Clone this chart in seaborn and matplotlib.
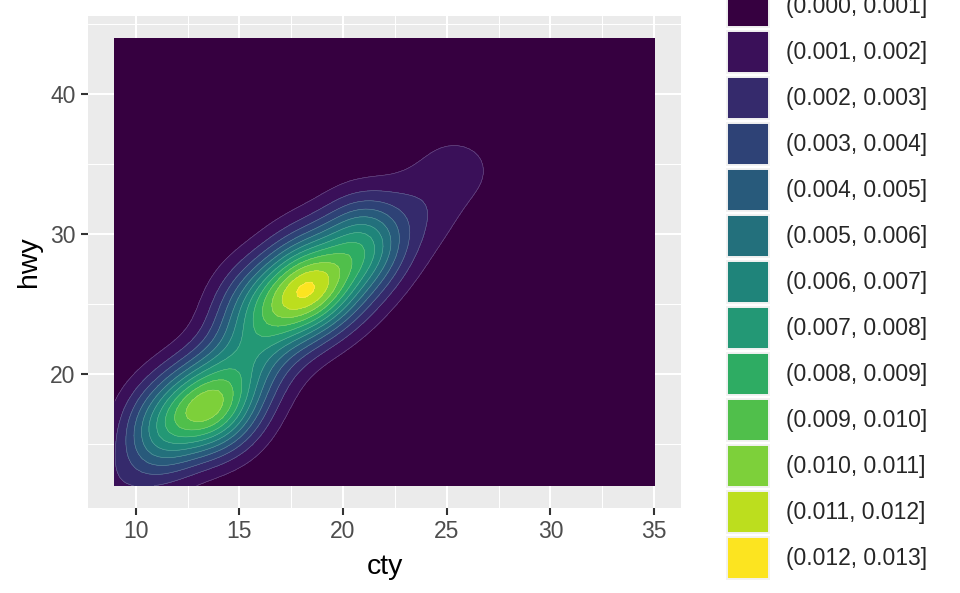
import numpy as np
import matplotlib
matplotlib.use("Agg")
import matplotlib.pyplot as plt
from matplotlib.patches import Patch
from matplotlib.ticker import MultipleLocator
import seaborn as sns

# mpg data: city / highway miles per gallon (234 cars)
cty = [18, 21, 20, 21, 16, 18, 18, 18, 16, 20, 19, 15, 17, 17, 15, 15, 17, 16,
       14, 11, 14, 13, 12, 16, 15, 16, 15, 15, 14, 11, 11, 14, 19, 22, 18, 18,
       17, 18, 17, 16, 16, 17, 17, 11, 15, 15, 16, 16, 15, 14, 13, 14, 14, 14,
       9, 11, 11, 13, 13, 9, 13, 11, 13, 11, 12, 9, 13, 13, 12, 9, 11, 11,
       13, 11, 11, 11, 12, 14, 15, 14, 13, 13, 13, 14, 14, 13, 13, 13, 11, 13,
       18, 18, 17, 16, 15, 15, 15, 15, 14, 28, 24, 25, 23, 24, 26, 25, 24, 21,
       18, 18, 21, 21, 18, 18, 19, 19, 19, 20, 20, 17, 16, 17, 17, 15, 15, 14,
       9, 14, 13, 11, 11, 12, 12, 11, 11, 11, 12, 14, 13, 13, 13, 21, 19, 23,
       23, 19, 19, 18, 19, 19, 14, 15, 14, 12, 18, 16, 17, 18, 16, 18, 18, 20,
       19, 20, 18, 21, 19, 19, 19, 20, 20, 19, 20, 15, 16, 15, 15, 16, 14, 21,
       21, 21, 21, 18, 18, 19, 21, 21, 21, 22, 18, 18, 18, 24, 24, 26, 28, 26,
       11, 13, 15, 16, 17, 15, 15, 15, 16, 21, 19, 21, 22, 17, 33, 21, 19, 22,
       21, 21, 21, 16, 17, 35, 29, 21, 19, 20, 20, 21, 18, 19, 21, 16, 18, 17]
hwy = [29, 29, 31, 30, 26, 26, 27, 26, 25, 28, 27, 25, 25, 25, 25, 24, 25, 23,
       20, 15, 20, 17, 17, 26, 23, 26, 25, 24, 19, 14, 15, 17, 27, 30, 26, 29,
       26, 24, 24, 22, 22, 24, 24, 17, 22, 21, 23, 23, 19, 18, 17, 17, 19, 19,
       12, 17, 15, 17, 17, 12, 17, 16, 18, 15, 16, 12, 17, 17, 16, 12, 15, 16,
       17, 15, 17, 17, 18, 17, 19, 17, 19, 19, 17, 17, 17, 16, 16, 17, 15, 17,
       26, 25, 26, 24, 21, 22, 23, 22, 20, 33, 32, 32, 29, 32, 34, 36, 36, 29,
       26, 27, 30, 31, 26, 26, 28, 26, 29, 28, 27, 24, 24, 24, 22, 19, 20, 17,
       12, 19, 18, 14, 15, 18, 18, 15, 17, 16, 18, 17, 19, 19, 17, 29, 27, 31,
       32, 27, 26, 26, 25, 25, 17, 17, 20, 18, 26, 26, 27, 28, 25, 25, 24, 27,
       25, 26, 23, 26, 26, 26, 26, 25, 27, 25, 27, 20, 20, 19, 17, 20, 17, 29,
       27, 31, 31, 26, 26, 28, 27, 29, 31, 31, 26, 26, 27, 30, 33, 35, 37, 35,
       15, 18, 20, 20, 22, 17, 19, 18, 20, 29, 26, 29, 29, 24, 44, 29, 26, 29,
       29, 29, 29, 23, 24, 44, 41, 29, 26, 28, 29, 29, 29, 28, 29, 26, 26, 26]

breaks = [0.000, 0.001, 0.002, 0.003, 0.004, 0.005, 0.006, 0.007,
          0.008, 0.009, 0.010, 0.011, 0.012, 0.013]
level_labels = [f"({a:.3f}, {b:.3f}]" for a, b in zip(breaks[:-1], breaks[1:])]

# viridis steps as they appear in the picture
level_colors = ["#360040", "#3A1059", "#352A6C", "#2E4276", "#285A7B",
                "#23707C", "#1F847A", "#239875", "#2EAC63", "#50BF4B",
                "#7DD03A", "#BCDE1E", "#FCE420"]


def bandwidth_nrd(v):
    q1, q3 = np.percentile(v, [25, 75])
    return 4 * 1.06 * min(np.std(v, ddof=1), (q3 - q1) / 1.34) * len(v) ** (-0.2)


# 2d kernel density on a 100x100 grid (like MASS::kde2d)
x = np.asarray(cty, float)
y = np.asarray(hwy, float)
hx = bandwidth_nrd(x) / 4
hy = bandwidth_nrd(y) / 4
gx = np.linspace(x.min(), x.max(), 100)
gy = np.linspace(y.min(), y.max(), 100)
dx = np.exp(-0.5 * ((gx[:, None] - x[None, :]) / hx) ** 2) / np.sqrt(2 * np.pi)
dy = np.exp(-0.5 * ((gy[:, None] - y[None, :]) / hy) ** 2) / np.sqrt(2 * np.pi)
z = (dx @ dy.T) / (len(x) * hx * hy)

sns.set_theme(style="darkgrid", rc={
    "axes.facecolor": "#EBEBEB",
    "grid.color": "white",
    "axes.edgecolor": "#EBEBEB",
})
plt.rcParams["font.family"] = ["Liberation Sans", "DejaVu Sans"]

fig = plt.figure(figsize=(9.6, 5.93), dpi=100)
ax = fig.add_axes([88 / 960, 85 / 593, 593 / 960, 492 / 593])

ax.contourf(gx, gy, z.T, levels=breaks, colors=level_colors)
ax.contour(gx, gy, z.T, levels=breaks[1:-1], colors="white",
           linewidths=0.4, alpha=0.3)

ax.set_xlim(7.7, 36.3)
ax.set_ylim(10.4, 45.6)
ax.xaxis.set_major_locator(MultipleLocator(5))
ax.xaxis.set_minor_locator(MultipleLocator(2.5))
ax.yaxis.set_major_locator(MultipleLocator(10))
ax.yaxis.set_minor_locator(MultipleLocator(5))
ax.grid(which="major", color="white", linewidth=1.5)
ax.grid(which="minor", color="white", linewidth=0.75)
ax.set_axisbelow(True)
for s in ax.spines.values():
    s.set_visible(False)
ax.tick_params(which="major", length=5, width=1.5, color="#333333",
               labelsize=16.5, labelcolor="#4D4D4D", pad=4,
               bottom=True, left=True)
ax.tick_params(which="minor", length=0)
ax.set_xlabel("cty", fontsize=20.5, color="black", labelpad=7.5)
ax.set_ylabel("hwy", fontsize=20.5, color="black", labelpad=6)

handles = [Patch(facecolor=c, edgecolor="#F2F2F2", linewidth=1.4) for c in level_colors]
fig.legend(handles, level_labels, loc="upper left",
           bbox_to_anchor=(727 / 960, (593 + 15) / 593),
           frameon=False, fontsize=16.5, handleheight=2.44, handlelength=1.83,
           labelspacing=0.175, handletextpad=0.74, borderpad=0, borderaxespad=0)

fig.savefig("out.png", dpi=100)
